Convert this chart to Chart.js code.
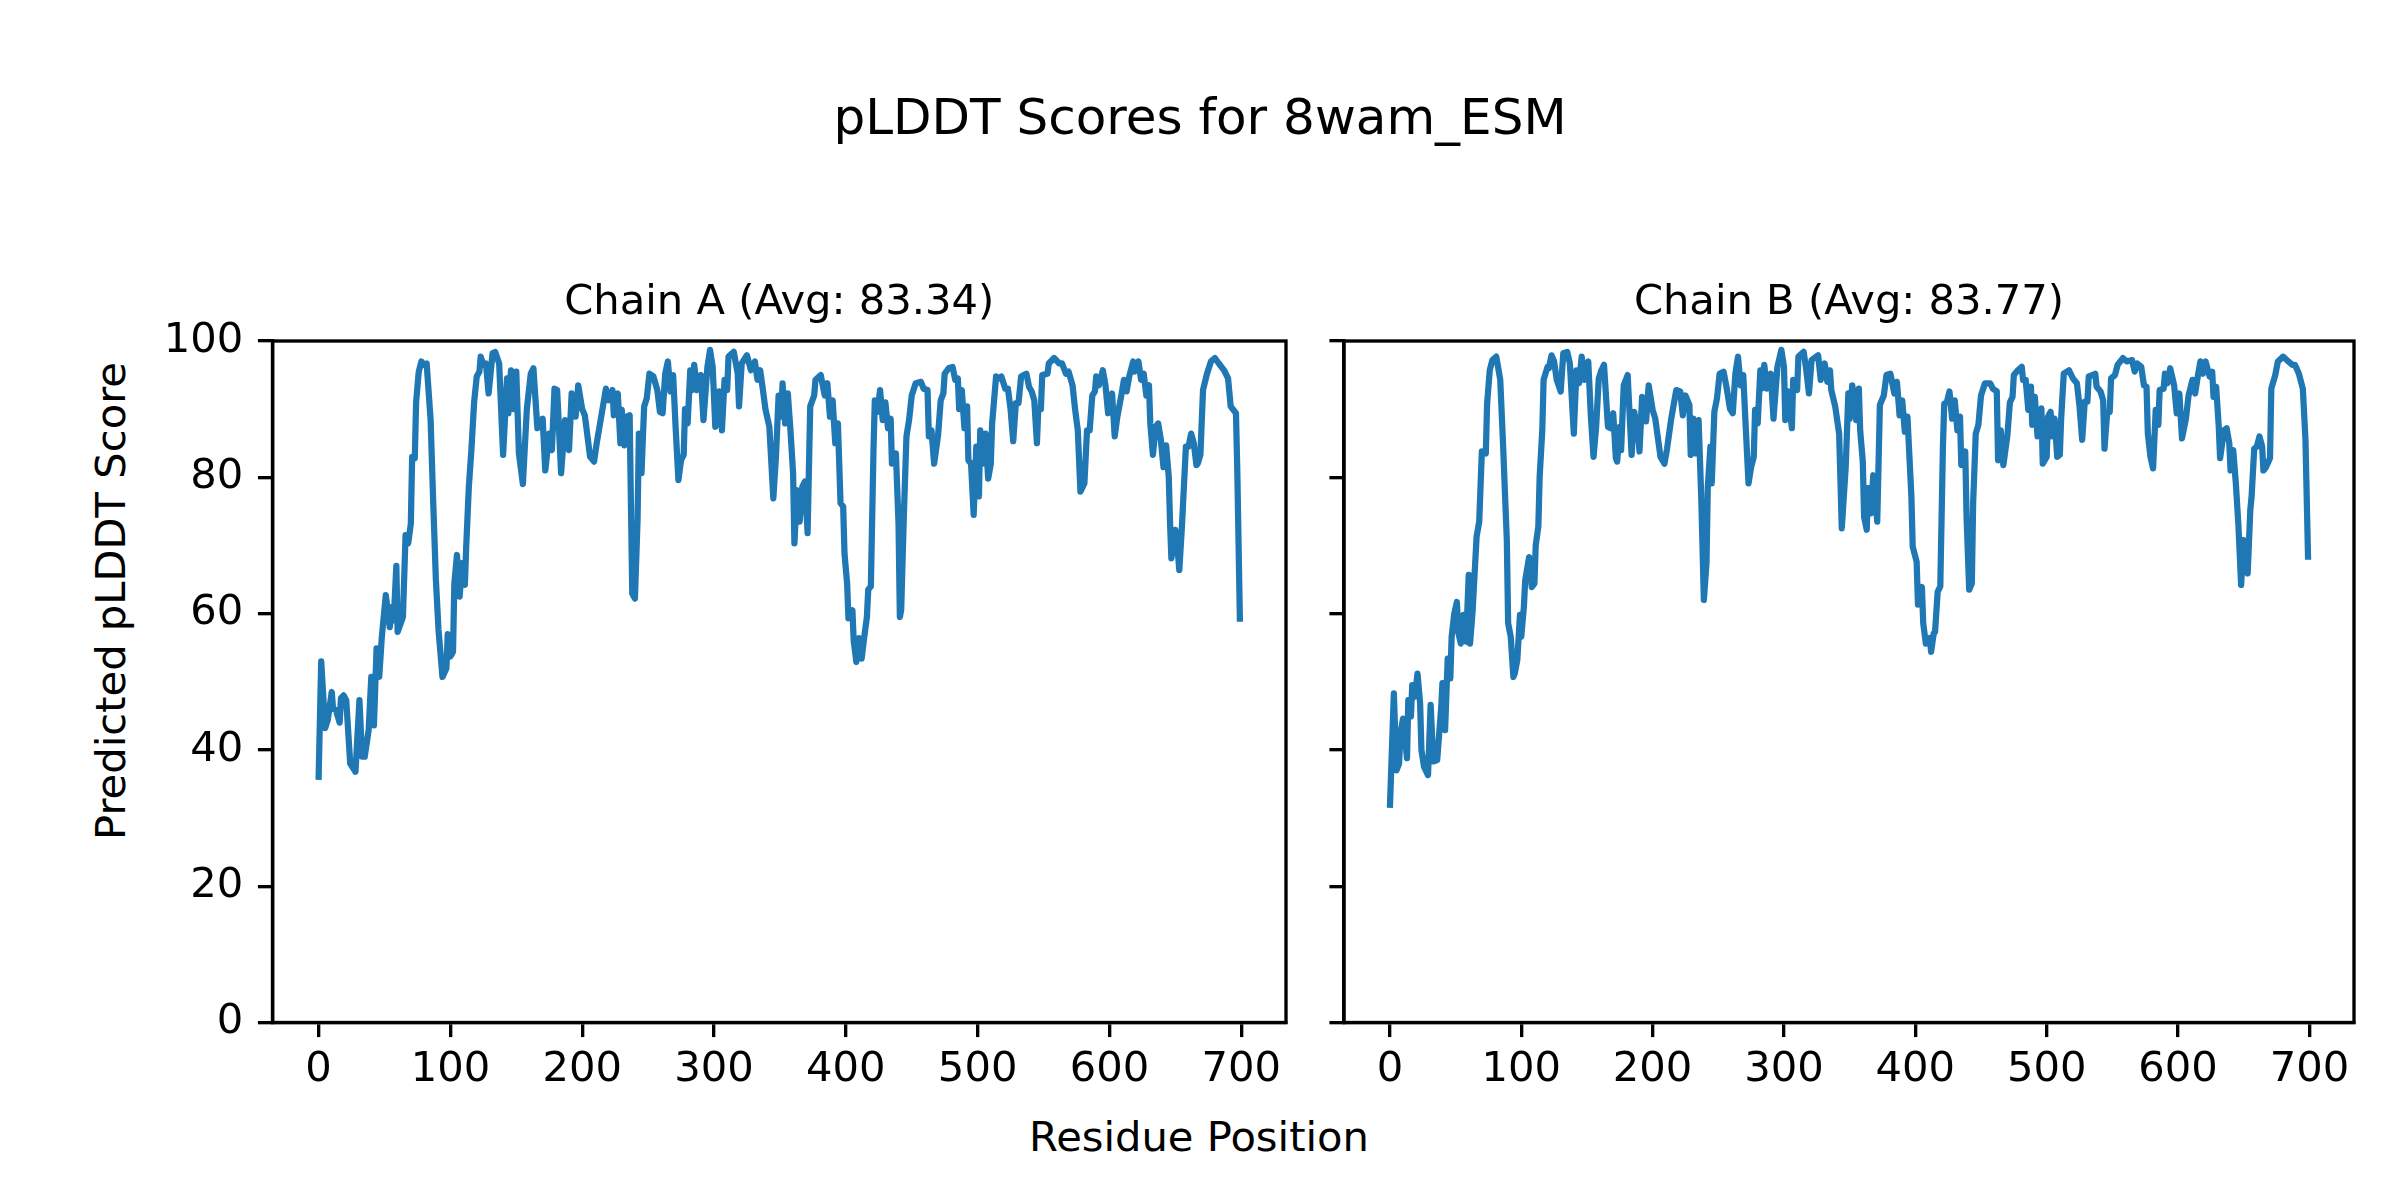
<!DOCTYPE html>
<html>
<head>
<meta charset="utf-8">
<script src="https://cdn.jsdelivr.net/npm/chart.js@4.4.1/dist/chart.umd.min.js"></script>
<style>
  body { margin: 0; background: #fff; width: 2400px; height: 1200px; position: relative; overflow: hidden; font-family: "DejaVu Sans"; }
  canvas { position: absolute; top: 0; }
  .t { position: absolute; white-space: nowrap; color: #000; transform: translate(-50%, -50%); }
</style>
</head>
<body>
<div class="t" style="left:1200px; top:116.7px; font-size:50px; line-height:60px">pLDDT Scores for 8wam_ESM</div>
<div class="t" style="left:1199px; top:1137.3px; font-size:41.67px; line-height:50px">Residue Position</div>
<div class="t" style="left:110.6px; top:601px; font-size:41.67px; line-height:50px; transform:translate(-50%, -50%) rotate(-90deg)">Predicted pLDDT Score</div>
<canvas id="chainA" width="1320" height="1200" style="left:0"></canvas>
<canvas id="chainB" width="1080" height="1200" style="left:1320px"></canvas>
<script>
// residue positions and pLDDT values
const resA = [0,2,5,7,10,11,13,16,17,19,21,24,28,31,33,35,38,40,42,44,46,48,51,54,56,57,59,60,64,66,68,70,71,73,74,76,78,80,82,85,87,89,91,94,97,98,100,102,103,105,107,109,111,112,114,116,118,120,122,123,125,127,129,132,134,137,140,143,144,146,148,150,152,155,158,161,163,166,168,170,172,175,177,179,181,184,
  187,190,192,195,197,200,202,206,209,211,214,218,220,223,224,227,229,230,232,234,236,238,240,242,243,245,247,249,251,254,257,259,261,263,265,267,269,271,273,275,277,278,280,282,283,285,287,290,292,295,297,299,301,304,306,308,310,311,315,318,319,321,325,328,331,333,335,337,339,342,345,347,349,351,352,354,356,358,360,361,363,365,367,369,371,373,
  376,377,381,384,386,388,390,392,394,396,398,399,401,402,405,406,408,410,412,414,416,417,419,421,422,424,426,428,430,432,434,435,438,440,441,442,444,446,448,450,453,457,459,462,463,465,467,470,472,474,475,478,481,483,485,486,488,490,492,493,495,497,499,501,502,504,506,508,510,511,514,516,518,521,523,525,527,529,531,533,535,537,539,541,543,545,546,548,549,553,554,558,
  562,564,567,569,572,574,576,578,581,583,585,587,589,590,592,595,597,599,602,604,606,609,611,613,615,618,619,622,624,626,628,630,631,633,635,637,639,641,643,645,646,647,650,651,653,655,656,658,660,662,664,666,667,669,671,674,677,680,683,687,690,692,696,697,699];
const plddtA = [35.6,53,43.2,44.4,48.5,46,45.9,44,47.6,48,47.3,38,36.8,47.3,39,39,42.9,50.7,43.6,54.9,50.7,56.6,62.7,58,61,59,67,57.3,59.5,71.5,70.3,73.2,83,82.8,91,95.5,97,96.5,96.7,88.4,76.2,65,57.6,50.7,52,57,53.7,54.4,64.4,68.6,62.5,67.4,64.2,69.8,78.6,84.2,91,94.8,95.5,97.7,96.5,96.7,92.3,98.2,98.4,96.7,83.3,94.5,89.4,95.7,90,95.5,83.5,79,90,95.2,96,87.2,88.4,88.6,81,86.4,84,93,92.8,80.6,
  88.4,84,92.3,88.9,93.5,90,89.1,83,82.3,85,88.4,93,91.3,92.8,89.1,92.3,85,89.9,84.7,88.9,89.1,62.9,62.2,73.7,86.4,80.6,90.4,91.6,95.2,94.8,92.8,89.6,89.4,95.2,97,92.6,95,86.9,79.6,82.5,83.3,90,87.9,95.7,92.8,96.5,92.8,95,88.4,96.2,98.7,96.2,87.4,92.6,86.9,94.3,92.8,97.7,98.4,95.2,90.4,96.7,97.9,95.7,97,94.3,95.7,93,90,87.4,76.9,83,92,88.9,93.8,87.9,92.3,86.9,80.6,70.3,78.1,73.5,78.6,79.4,71.8,90.4,
  92,94.3,95,92,93.8,88.9,91.3,85,87.9,76.2,75.7,68.8,64.4,59.3,60.5,56,52.9,56.4,53.4,56.6,59.5,63.5,64,84,91.3,89.6,92.8,88.4,91,87.2,88.6,82,83.5,73.2,59.5,60.5,74.2,86,88.4,92,93.8,94,93,92.8,86,86.9,82,86.2,91.3,92.3,95.2,96,96.2,94.3,94.5,90,92.8,87.2,90.4,82.5,82,74.5,84.5,77.2,86.9,82,86.4,79.8,82,87.9,94.8,94.5,94.8,93,93,90,85.3,90.9,90.9,94.8,95,95.2,93.3,92.6,91.3,85,90,90,95,95.2,96.7,97.5,
  96.7,96.7,95.2,95.5,93.5,89.9,86.9,77.9,79.1,86.9,86.9,92,92.6,94.8,93.5,95.7,93.5,89.4,92.3,86,88.9,92,94.3,92.6,94.8,97,95.5,97,94.3,95.2,92,93.5,87.9,83.3,87.4,87.9,85.5,81.5,84.7,80.1,73.2,68.1,72.3,71.3,66.4,72.8,76.7,84.5,84.5,86.4,85,81.8,82,83.3,92.8,95.2,97,97.5,96.7,95.7,94.5,90.4,89.4,81,58.8];

const resB = [0,3,5,7,8,10,13,14,16,17,19,21,23,24,26,29,31,33,36,39,40,42,44,46,47,49,51,52,54,56,58,60,61,63,66,68,70,73,74,76,78,81,84,86,89,90,92,94,95,97,99,100,102,103,106,108,110,111,113,114,116,117,120,121,123,125,127,130,132,135,137,140,142,144,146,148,151,153,155,157,159,161,163,166,168,170,172,173,175,176,178,181,184,
  186,189,190,192,195,197,200,202,206,209,211,214,218,221,223,225,228,229,231,233,235,237,239,241,242,244,245,247,249,251,254,256,259,261,263,265,267,269,271,273,275,277,278,280,282,283,285,287,290,292,295,298,300,301,303,306,307,310,311,315,317,319,321,326,328,331,333,335,336,339,342,344,347,349,350,352,355,357,358,360,361,363,364,366,368,371,373,
  376,378,381,384,386,388,390,392,394,397,398,401,402,405,406,408,411,412,414,415,417,419,421,422,424,426,428,430,432,434,435,438,439,441,443,444,446,448,450,453,457,459,462,463,465,467,470,472,474,475,478,481,482,484,486,488,489,491,493,496,497,500,501,503,504,506,508,510,511,513,517,520,523,525,527,529,531,532,535,537,538,541,543,544,546,548,549,552,554,558,
  561,565,567,569,572,574,576,577,579,581,583,585,586,589,590,592,594,597,599,601,603,606,608,611,613,615,617,619,621,624,626,627,629,631,632,635,637,639,640,642,644,646,648,650,651,653,655,656,658,660,662,664,665,667,670,671,674,676,680,684,687,689,692,695,697,699];
const plddtB = [31.5,48.3,37,38,42.4,44.6,38.8,47.3,44.9,49.5,47.8,51.2,46.8,40,37.5,36.3,46.6,38.3,38.5,46.1,49.8,42.9,53.4,50.5,56.6,60,61.7,57.3,55.6,59.8,55.9,65.7,55.6,60.5,71.3,73.5,83.8,83.5,90.8,95.7,97.2,97.7,94.3,85.5,70.8,58.6,56.6,50.7,51.2,53.2,59.8,56.6,61,64.9,68.3,63.9,64.4,70,72.8,80.1,86.9,94.3,96.2,96,97.9,97,94.3,92.6,98.2,98.4,96.7,86.4,95.7,93.8,97.7,94.3,97,88.9,83,87.4,94.5,95.7,96.5,87.4,87.2,89.4,82.8,82.3,87.4,84,93.5,95,83.3,
  89.6,86.4,83.8,91.8,88.2,93.5,89.9,88.6,83,82,84.2,88.4,92.8,92.6,89.1,92,90.6,83.3,88.6,83.5,88.4,77.2,62,67.4,78.6,84.5,79.1,89.6,91.6,95.2,95.5,93.5,90,89.4,95.2,97.7,93.5,95,86.9,79.1,81.5,83,89.9,87.9,95.7,93,96.5,93,95.2,88.6,96.2,98.7,96.2,88.4,92.6,87.2,94.3,92.8,97.7,98.4,95.7,92.3,97.2,97.9,94.3,96.7,94,95.7,92.8,90.4,86.4,72.5,81.5,92.3,88.6,93.5,88.4,93,86.9,82.3,74.2,72.3,78.4,74.7,80.3,73.5,90.6,
  92,95,95.2,92.3,94,89.1,91.3,86.7,88.9,77.2,69.8,67.6,61.3,63.9,58.6,55.6,56.4,54.4,57.1,57.3,63.2,64,84.5,90.8,91,92.6,88.6,91.3,86.9,88.9,81.8,83.8,74.2,63.5,64.4,76.2,86.4,87.7,92,93.8,93.8,93,92.6,82.5,86.9,81.8,86,91,91.8,95,95.7,96.2,94.3,94.3,89.9,93.3,87.7,91.8,86,90.1,82,83,88.9,89.6,86,88.6,83,83.3,88.6,95.2,95.7,94.5,93.8,90.4,85.5,91.1,91.1,94.8,95,95.2,93.3,92.6,91.3,84.2,89.4,89.6,94.5,95,96.5,97.5,
  97,97.2,95.5,96.7,96.2,93.5,93.3,86.4,83,81.3,89.9,87.7,92.8,93,95.2,93.8,96,93.5,89.4,92.3,85.7,88.6,92,94.3,92.3,94.8,97,95.2,97,94.8,95.5,91.8,93.3,87.4,82.8,86.9,87.2,85,81,84,79.1,72.8,64.2,70.8,69.8,65.9,75.2,77.2,84.2,84.5,86,84.5,81,81.5,82.8,93,95,97,97.7,97,96.5,96.5,95.2,93,85.5,67.9];

const xTicks = [0, 100, 200, 300, 400, 500, 600, 700];
const yTicks = [0, 20, 40, 60, 80, 100];

const PT = 300 / 72;
const FS = 10 * PT;
const tickLen = 3.5 * PT;
const spineW = 0.8 * PT;

Chart.defaults.font.family = 'DejaVu Sans';
Chart.defaults.color = '#000';

// matplotlib-style box around the plot area
const frame = {
  id: 'frame',
  afterDatasetsDraw(chart) {
    const {ctx, chartArea: a} = chart;
    ctx.save();
    ctx.strokeStyle = '#000';
    ctx.lineWidth = spineW;
    ctx.strokeRect(a.left, a.top, a.right - a.left, a.bottom - a.top);
    ctx.restore();
  }
};

function makeChart(id, res, vals, title, showYLabels, yWidth, padRight) {
  return new Chart(document.getElementById(id), {
    type: 'line',
    data: {
      datasets: [{
        data: res.map((r, i) => ({x: r, y: vals[i]})),
        borderColor: '#1f77b4',
        borderWidth: 1.5 * PT,
        pointRadius: 0,
        tension: 0,
        fill: false,
        borderJoinStyle: 'round'
      }]
    },
    options: {
      responsive: false,
      animation: false,
      devicePixelRatio: 1,
      layout: {padding: {left: 0, right: padRight, top: 0, bottom: 77.5}},
      plugins: {
        legend: {display: false},
        tooltip: {enabled: false},
        title: {
          display: true,
          fullSize: false,
          text: title,
          color: '#000',
          font: {size: FS, weight: 'normal', lineHeight: 1.2},
          padding: {top: 278.6, bottom: 12.4}
        }
      },
      scales: {
        x: {
          type: 'linear',
          min: -34.95,
          max: 733.95,
          afterBuildTicks: s => { s.ticks = xTicks.map(v => ({value: v})); },
          afterFit: s => { s.height = 100; },
          grid: {drawOnChartArea: false, drawTicks: true, tickLength: tickLen, lineWidth: spineW, tickWidth: spineW, tickColor: '#000'},
          border: {display: true, color: '#000', width: spineW},
          ticks: {color: '#000', font: {size: FS}, padding: 8.2, maxRotation: 0, autoSkip: false}
        },
        y: {
          type: 'linear',
          min: 0,
          max: 100,
          afterBuildTicks: s => { s.ticks = yTicks.map(v => ({value: v})); },
          afterFit: s => { s.width = yWidth; },
          grid: {drawOnChartArea: false, drawTicks: true, tickLength: tickLen, lineWidth: spineW, tickWidth: spineW, tickColor: '#000'},
          border: {display: true, color: '#000', width: spineW},
          ticks: {display: showYLabels, color: '#000', font: {size: FS}, padding: tickLen, autoSkip: false}
        }
      }
    },
    plugins: [frame]
  });
}

makeChart('chainA', resA, plddtA, 'Chain A (Avg: 83.34)', true, 272.5, 34);
makeChart('chainB', resB, plddtB, 'Chain B (Avg: 83.77)', false, 24, 46);
</script>
</body>
</html>
